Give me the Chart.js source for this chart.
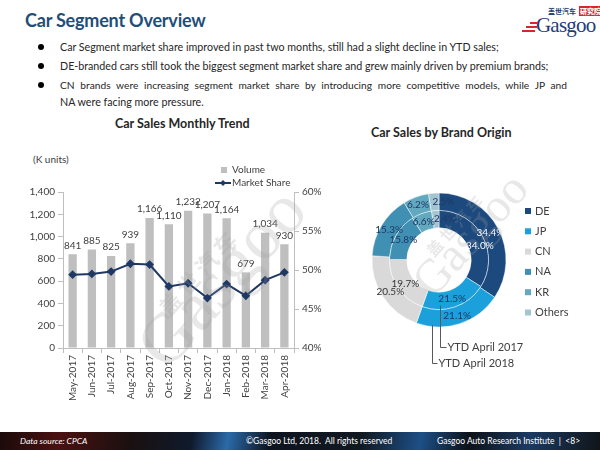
<!DOCTYPE html>
<html>
<head>
<meta charset="utf-8">
<script src="https://cdn.jsdelivr.net/npm/chart.js@4/dist/chart.umd.min.js"></script>
<style>
  html, body { margin: 0; padding: 0; }
  body { width: 600px; height: 450px; position: relative; overflow: hidden; background: #fff; font-family: Lato, "Open Sans", sans-serif; color: #262626; }
  .abs { position: absolute; }
  h1 { position: absolute; left: 25px; top: 9px; margin: 0; font-size: 18px; font-weight: bold; color: #1f4e79; letter-spacing: -0.2px; }
  .logo { position: absolute; left: 522px; top: 5px; width: 76px; height: 32px; }
  .logo .cn { position: absolute; left: 26px; top: 1px; font: bold 7px "Noto Sans CJK SC"; color: #1f3c78; white-space: nowrap; }
  .logo .cn b { background: #d9252b; color: #fff; padding: 0 1px; margin-left: 3px; }
  .logo .g { position: absolute; left: 14px; top: 8px; font: 21px "Liberation Serif", serif; color: #1f3c78; letter-spacing: -0.8px; }
  .logo .s { position: absolute; height: 2px; background: #d9252b; }
  .bullets { position: absolute; left: 0; top: 39px; width: 600px; font-size: 10.7px; line-height: 16px; }
  .bullets div { position: absolute; left: 60px; width: 507px; white-space: nowrap; }
  .bullets span.dot { position: absolute; left: 38px; width: 6px; height: 6px; border-radius: 50%; background: #000; }
  .ctitle { position: absolute; font-weight: bold; font-size: 12.5px; color: #262626; white-space: nowrap; }
  .wm { position: absolute; color: rgba(160,160,160,0.24); font-weight: bold; white-space: nowrap; transform-origin: left top; pointer-events: none; }
  .footer { position: absolute; left: 0; top: 432px; width: 600px; height: 18px;
    background: linear-gradient(100deg, #1a0a0a 0%, #4a1111 10%, #1a1010 22%, #0f1a2c 32%, #2b6aa8 38%, #0d1420 45%, #101820 60%, #1d4f86 70%, #0c1118 78%, #1b3a62 88%, #101418 100%);
    color: #fff; font-size: 8.5px; line-height: 18px; }
  .footer span { position: absolute; top: 0; white-space: nowrap; }
</style>
</head>
<body>
<h1>Car Segment Overview</h1>
<div class="logo">
  <div class="cn">盖世汽车<b>研究院</b></div>
  <div class="g">Gasgoo</div>
  <div class="s" style="top:17px; left:8px; width:8px;"></div>
  <div class="s" style="top:21px; left:4px; width:11px;"></div>
  <div class="s" style="top:25px; left:0; width:13px;"></div>
</div>

<div class="bullets">
  <span class="dot" style="top:5px"></span>
  <div style="top:0;">Car Segment market share improved in past two months, still had a slight decline in YTD sales;</div>
  <span class="dot" style="top:24px"></span>
  <div style="top:19px;">DE-branded cars still took the biggest segment market share and grew mainly driven by premium brands;</div>
  <span class="dot" style="top:43px"></span>
  <div style="top:38px; white-space: normal; text-align: justify; text-align-last: justify; font-size: 10.2px;">CN brands were increasing segment market share by introducing more competitive models, while JP and</div>
  <div style="top:55px;">NA were facing more pressure.</div>
</div>

<div class="ctitle" style="left:115px; top:116px;">Car Sales Monthly Trend</div>
<div class="abs" style="left:33px; top:153px; font-size:10px; color:#404040;">(K units)</div>
<div class="ctitle" style="left:371px; top:125px;">Car Sales by Brand Origin</div>

<canvas id="trend" class="abs" style="left:0; top:110px;" width="330" height="300"></canvas>
<canvas id="origin" class="abs" style="left:340px; top:110px;" width="260" height="290"></canvas>

<div class="wm" style="left:150px; top:300px; transform: rotate(-48deg); font-size:22px; font-family:'Noto Sans CJK SC';">盖 世 汽 车</div>
<div class="wm" style="left:120px; top:330px; transform: rotate(-48deg); font-size:70px; font-family:'Liberation Serif'; font-weight:normal;">Gasgoo</div>
<div class="wm" style="left:420px; top:245px; transform: rotate(-48deg); font-size:16px; font-family:'Noto Sans CJK SC';">盖 世 汽 车</div>
<div class="wm" style="left:400px; top:270px; transform: rotate(-48deg); font-size:48px; font-family:'Liberation Serif'; font-weight:normal;">Gasgoo</div>

<div class="footer">
  <span style="left:20px; font-style:italic;">Data source: CPCA</span>
  <span style="left:246px;">©Gasgoo Ltd, 2018.&nbsp; All rights reserved</span>
  <span style="left:437px;">Gasgoo Auto Research Institute&nbsp; |&nbsp; &lt;8&gt;</span>
</div>

<script>
// monthly trend
const months = ['May-2017', 'Jun-2017', 'Jul-2017', 'Aug-2017', 'Sep-2017', 'Oct-2017',
                'Nov-2017', 'Dec-2017', 'Jan-2018', 'Feb-2018', 'Mar-2018', 'Apr-2018'];
const volume = [841, 885, 825, 939, 1166, 1110, 1232, 1207, 1164, 679, 1034, 930];
const marketShare = [49.4, 49.5, 49.8, 50.8, 50.7, 47.9, 48.3, 46.4, 48.2, 46.7, 48.7, 49.7];

// brand origin (YTD April)
const origins = ['DE', 'JP', 'CN', 'NA', 'KR', 'Others'];
const ytd2018 = [34.4, 21.1, 20.5, 15.3, 6.2, 2.5];
const ytd2017 = [34.0, 21.5, 19.7, 15.8, 6.6, 2.4];
const originColors = ['#1d4a7e', '#1ba0dc', '#d9d9d9', '#3f90b3', '#62a8bf', '#a3c5d2'];
const originLabelColors = ['#ffffff', '#1f3864', '#333333', '#1f3864', '#1f3864', '#1f3864'];

const FONT = 'Lato, "Open Sans", sans-serif';
const TXT = '#404040';
const AXIS = '#bfbfbf';

Chart.defaults.font.family = FONT;
Chart.defaults.font.size = 10;
Chart.defaults.color = TXT;

// bar value labels + in-plot legend
const trendExtras = {
    id: 'trendExtras',
    afterDatasetsDraw: (chart) => {
        const ctx = chart.ctx;
        const meta = chart.getDatasetMeta(1);
        ctx.save();
        ctx.font = '10px ' + FONT;
        ctx.fillStyle = TXT;
        ctx.textAlign = 'center';
        ctx.textBaseline = 'bottom';
        meta.data.forEach((bar, i) => {
            ctx.fillText(volume[i].toLocaleString('en-US'), bar.x, bar.y - 4);
        });

        // legend
        ctx.textAlign = 'left';
        ctx.textBaseline = 'middle';
        ctx.fillStyle = '#bfbfbf';
        ctx.fillRect(221, 57, 6, 6);
        ctx.fillStyle = TXT;
        ctx.fillText('Volume', 232, 60);
        ctx.strokeStyle = '#1f3864';
        ctx.lineWidth = 2;
        ctx.beginPath();
        ctx.moveTo(215, 73);
        ctx.lineTo(231, 73);
        ctx.stroke();
        ctx.fillStyle = '#1f3864';
        ctx.beginPath();
        ctx.moveTo(223, 70); ctx.lineTo(226, 73); ctx.lineTo(223, 76); ctx.lineTo(220, 73);
        ctx.closePath();
        ctx.fill();
        ctx.fillStyle = TXT;
        ctx.fillText('Market Share', 232, 73);
        ctx.restore();
    }
};

new Chart(document.getElementById('trend'), {
    type: 'bar',
    data: {
        labels: months,
        datasets: [
            {
                type: 'line',
                label: 'Market Share',
                data: marketShare,
                borderColor: '#1f3864',
                backgroundColor: '#1f3864',
                borderWidth: 2,
                pointStyle: 'rectRot',
                pointRadius: 3,
                tension: 0,
                yAxisID: 'y2',
                order: 0
            },
            {
                type: 'bar',
                label: 'Volume',
                data: volume,
                backgroundColor: '#bfbfbf',
                categoryPercentage: 0.9,
                barPercentage: 0.48,
                yAxisID: 'y',
                order: 1
            }
        ]
    },
    options: {
        responsive: false,
        animation: false,
        layout: { padding: { top: 82, left: 0, right: 0, bottom: 0 } },
        plugins: {
            legend: { display: false },
            tooltip: { enabled: false }
        },
        scales: {
            x: {
                grid: { display: true, drawOnChartArea: false, color: AXIS, tickLength: 5 },
                border: { color: AXIS },
                ticks: { minRotation: 90, maxRotation: 90, padding: 2, color: TXT },
                afterFit: (s) => { s.height = 62; }
            },
            y: {
                position: 'left',
                min: 0,
                max: 1400,
                ticks: { stepSize: 200, padding: 3, color: TXT,
                         callback: (v) => v.toLocaleString('en-US') },
                grid: { display: true, drawOnChartArea: false, color: AXIS, tickLength: 5 },
                border: { color: AXIS },
                afterFit: (s) => { s.width = 63; }
            },
            y2: {
                position: 'right',
                min: 40,
                max: 60,
                ticks: { stepSize: 5, padding: 3, color: TXT, callback: (v) => v + '%' },
                grid: { display: true, drawOnChartArea: false, color: AXIS, tickLength: 5 },
                border: { color: AXIS },
                afterFit: (s) => { s.width = 36; }
            }
        }
    },
    plugins: [trendExtras]
});

// percentage labels, legend and ring callouts
const originExtras = {
    id: 'originExtras',
    afterDatasetsDraw: (chart) => {
        const ctx = chart.ctx;
        ctx.save();
        ctx.font = '10px ' + FONT;
        ctx.textBaseline = 'middle';
        chart.data.datasets.forEach((ds, di) => {
            chart.getDatasetMeta(di).data.forEach((arc, i) => {
                const p = arc.tooltipPosition();
                let x = p.x, y = p.y;
                ctx.textAlign = 'center';
                // the two thin slices at the top would overlap: push them apart
                if (origins[i] === 'KR') { ctx.textAlign = 'right'; x += 10; }
                if (origins[i] === 'Others') { ctx.textAlign = 'left'; x -= 2; }
                if (origins[i] === 'DE' && di === 1) { x += 5; y += 5; }
                ctx.fillStyle = originLabelColors[i];
                ctx.fillText(ds.data[i].toFixed(1) + '%', x, y);
            });
        });

        // legend
        ctx.textAlign = 'left';
        ctx.font = '11px ' + FONT;
        origins.forEach((o, i) => {
            const y = 101 + i * 20.3;
            ctx.fillStyle = originColors[i];
            ctx.fillRect(185, y - 3, 6, 6);
            ctx.fillStyle = TXT;
            ctx.fillText(o, 195, y);
        });

        // callouts
        const outer = chart.getDatasetMeta(0).data[0];
        const inner = chart.getDatasetMeta(1).data[0];
        const cx = outer.x, cy = outer.y;
        ctx.strokeStyle = '#595959';
        ctx.lineWidth = 1;
        ctx.font = '11px ' + FONT;
        ctx.fillStyle = TXT;

        let x = cx + 1.5, y0 = cy + inner.outerRadius - 4, y1 = 237.5;
        ctx.beginPath();
        ctx.moveTo(x, y0); ctx.lineTo(x, y1); ctx.lineTo(x + 6, y1);
        ctx.stroke();
        ctx.fillText('YTD April 2017', x + 7, y1);

        x = cx - 6.5; y0 = cy + outer.outerRadius - 2; y1 = 253.5;
        ctx.beginPath();
        ctx.moveTo(x, y0); ctx.lineTo(x, y1); ctx.lineTo(x + 5, y1);
        ctx.stroke();
        ctx.fillText('YTD April 2018', x + 6, y1);
        ctx.restore();
    }
};

new Chart(document.getElementById('origin'), {
    type: 'doughnut',
    data: {
        labels: origins,
        datasets: [
            { label: 'YTD April 2018', data: ytd2018, backgroundColor: originColors,
              borderColor: 'rgba(255,255,255,0.6)', borderWidth: 0.8 },
            { label: 'YTD April 2017', data: ytd2017, backgroundColor: originColors,
              borderColor: 'rgba(255,255,255,0.6)', borderWidth: 0.8 }
        ]
    },
    options: {
        responsive: false,
        animation: false,
        radius: 67,
        cutout: 32,
        layout: { padding: { left: 32, right: 94, top: 83, bottom: 73 } },
        plugins: {
            legend: { display: false },
            tooltip: { enabled: false }
        }
    },
    plugins: [originExtras]
});
</script>
</body>
</html>
